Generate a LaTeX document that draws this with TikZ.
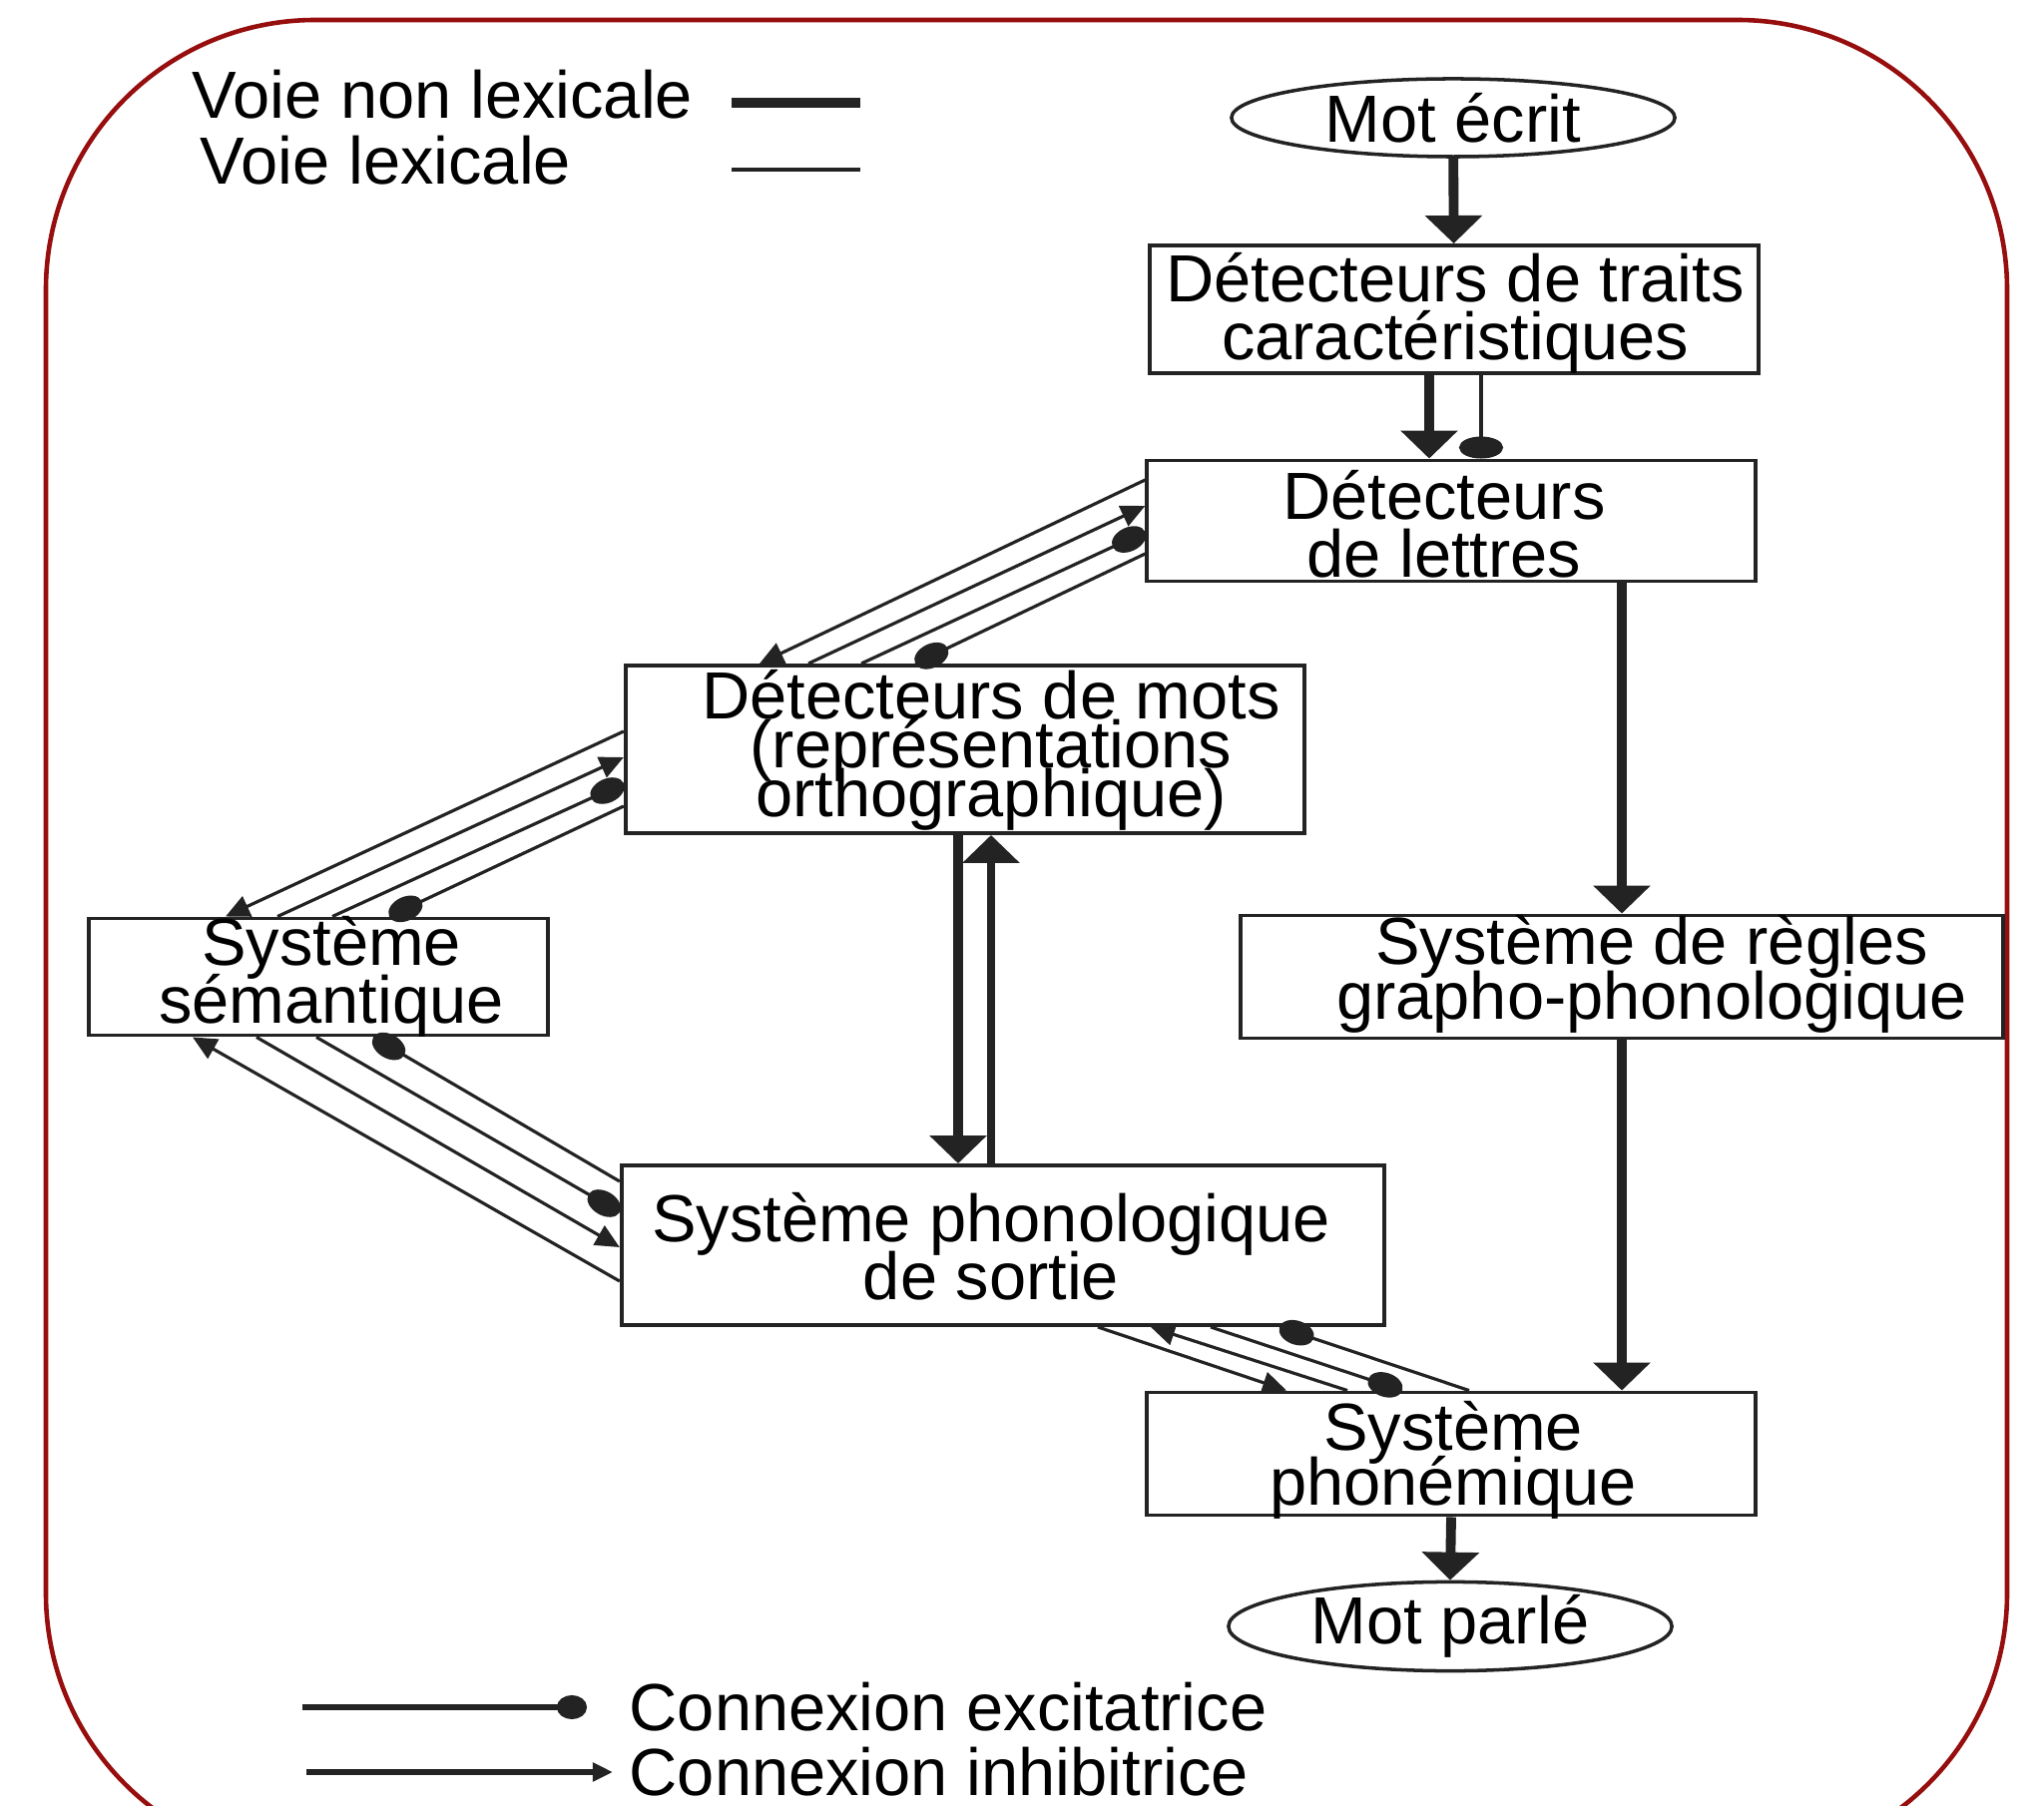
\documentclass[tikz,border=0pt]{standalone}
\usepackage{fontspec}
\setmainfont{Liberation Sans}
\usetikzlibrary{arrows.meta, shapes.geometric, calc}
\definecolor{bordure}{RGB}{150,14,14}
\definecolor{trait}{RGB}{35,35,35}
\lineskiplimit=-30pt

\tikzset{
  boite/.style={draw=trait, line width=1.1pt, inner sep=0pt},
  ovale/.style={draw=trait, ellipse, line width=1pt, inner sep=0pt, minimum width=4.44cm, font=\fontsize{19}{16.5}\selectfont},
  texte/.style={align=center, inner sep=0pt, font=\fontsize{19}{16.5}\selectfont},
  nonlex/.style={draw=trait, line width=2.8pt, -{Triangle[length=0.28cm,width=0.56cm]}},
  lex/.style={draw=trait, line width=0.9pt},
  inhib/.style={lex, -{Triangle[length=0.24cm,width=0.22cm]}},
  excit/.style={lex, -{Ellipse[length=0.36cm,width=0.24cm]}},
}

\begin{document}
\begin{tikzpicture}[x=0.01cm, y=-0.01cm]
\clip (0,0) rectangle (2048,1810);
\draw[bordure, line width=1.3pt, rounded corners=2.7cm] (46,20) rectangle (2011,1867);

% legende du haut
\node[texte, anchor=west] (voie-nl) at (192,95) {Voie non lexicale};
\node[texte, anchor=west] (voie-l) at (200,161) {Voie lexicale};
\coordinate (nl-a) at (733,103);
\coordinate (nl-b) at (862,103);
\coordinate (l-a) at (733,170);
\coordinate (l-b) at (862,170);
\draw[trait, line width=2.8pt] (nl-a) -- (nl-b);
\draw[lex, line width=1.1pt] (l-a) -- (l-b);

% boites
\node[ovale, minimum height=0.78cm] (ecrit) at (1456,118) {Mot écrit};
\node[boite, minimum width=6.09cm, minimum height=1.28cm] (traits) at (1457,310) {};
\node[texte] (traits-t) at (1458,314) {Détecteurs de traits\\caractéristiques};
\node[boite, minimum width=6.09cm, minimum height=1.21cm] (lettres) at (1454,522) {};
\node[texte] (lettres-t) at (1447,525) {Détecteurs\\de lettres};
\node[boite, minimum width=6.80cm, minimum height=1.68cm] (mots) at (967,751) {};
\node[texte, font=\fontsize{19}{14}\selectfont] (mots-t) at (993,752) {Détecteurs de mots\\(représentations\\orthographique)};
\node[boite, minimum width=4.60cm, minimum height=1.17cm] (sem) at (319,979) {};
\node[texte] (sem-t) at (332,979) {Système\\sémantique};
\node[boite, minimum width=7.63cm, minimum height=1.23cm] (regles) at (1625,979) {};
\node[texte, font=\fontsize{19}{15.6}\selectfont] (regles-t) at (1655,976) {Système de règles\\grapho-phonologique};
\node[boite, minimum width=7.64cm, minimum height=1.60cm] (sortie) at (1005,1248) {};
\node[texte] (sortie-t) at (993,1249) {Système phonologique\\de sortie};
\node[boite, minimum width=6.09cm, minimum height=1.23cm] (phonem) at (1454,1457) {};
\node[texte, font=\fontsize{19}{15.6}\selectfont] (phonem-t) at (1456,1463) {Système\\phonémique};
\node[ovale, minimum height=0.75cm] (parle) at (1453,1630) {Mot parlé};

% voie non lexicale
\draw[nonlex] (ecrit) -- (traits);
\draw[nonlex] ($(traits.south)+(-25,0)$) coordinate (tl) -- (tl |- lettres.north);
\draw[excit, -{Ellipse[length=0.22cm,width=0.44cm]}] ($(traits.south)+(27,0)$) coordinate (tr) -- (tr |- lettres.north);
\draw[nonlex] (regles.north |- lettres.south) -- (regles.north);
\draw[nonlex] (regles.south) -- (regles.south |- phonem.north);
\draw[nonlex] (phonem.south) -- (parle.north);

% lettres <-> mots
\draw[inhib] ($(lettres.west)+(0,-41)$) -- ($(mots.north)+(-206,0)$);
\draw[inhib] ($(mots.north)+(-157,0)$) -- ($(lettres.west)+(0,-15)$);
\draw[excit] ($(mots.north)+(-104,0)$) -- ($(lettres.west)+(0,11)$);
\draw[excit] ($(lettres.west)+(0,33)$) -- ($(mots.north)+(-50,0)$);

% mots <-> semantique
\draw[inhib] ($(mots.west)+(0,-18)$) -- ($(sem.north)+(-93,0)$);
\draw[inhib] ($(sem.north)+(-41,0)$) -- ($(mots.west)+(0,8)$);
\draw[excit] ($(sem.north)+(14,0)$) -- ($(mots.west)+(0,34)$);
\draw[excit] ($(mots.west)+(0,57)$) -- ($(sem.north)+(71,0)$);

% semantique <-> sortie
\draw[inhib] ($(sortie.west)+(0,36)$) -- ($(sem.south)+(-126,0)$);
\draw[inhib] ($(sem.south)+(-62,0)$) -- ($(sortie.west)+(0,2)$);
\draw[excit] ($(sem.south)+(-2,0)$) -- ($(sortie.west)+(0,-33)$);
\draw[excit] ($(sortie.west)+(0,-64)$) -- ($(sem.south)+(55,0)$);

% mots <-> sortie
\draw[nonlex] ($(mots.south)+(-7,0)$) coordinate (ml) -- (ml |- sortie.north);
\draw[nonlex, line width=2pt] ($(sortie.north)+(-12,0)$) coordinate (sr) -- (sr |- mots.south);

% sortie <-> phonemique
\draw[inhib] ($(sortie.south)+(95,0)$) -- ($(phonem.north)+(-165,0)$);
\draw[inhib] ($(phonem.north)+(-104,0)$) -- ($(sortie.south)+(148,0)$);
\draw[excit] ($(sortie.south)+(208,0)$) -- ($(phonem.north)+(-49,0)$);
\draw[excit] ($(phonem.north)+(18,0)$) -- ($(sortie.south)+(277,0)$);

% legende du bas
\node[texte, anchor=west] (excit-t) at (630,1711) {Connexion excitatrice};
\node[texte, anchor=west] (inhib-t) at (630,1776) {Connexion inhibitrice};
\coordinate (ex-a) at (303,1711);
\coordinate (in-a) at (307,1776);
\draw[lex, line width=1.6pt, -{Ellipse[length=0.3cm,width=0.24cm]}] (ex-a) -- ($(excit-t.west)+(-42,0)$);
\draw[lex, line width=1.6pt, -{Triangle[length=0.2cm,width=0.18cm]}] (in-a) -- ($(inhib-t.west)+(-16,0)$);
\end{tikzpicture}
\end{document}
